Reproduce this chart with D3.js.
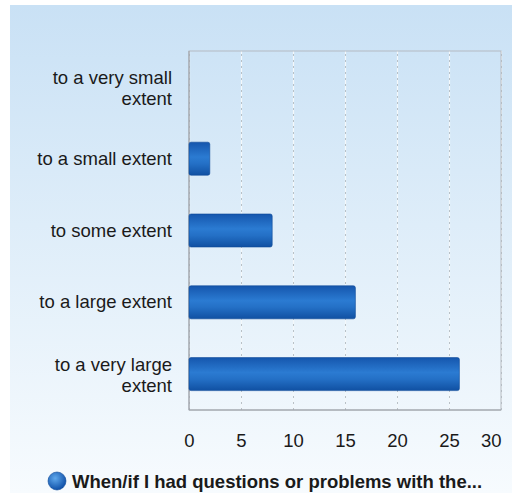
<!DOCTYPE html>
<html>
<head>
<meta charset="utf-8">
<script src="https://cdn.jsdelivr.net/npm/d3@7"></script>
<style>
  body { margin: 0; background: #fff; }
  svg { display: block; font-family: "Liberation Sans", Arial, sans-serif; }
</style>
</head>
<body>
<div id="chart"></div>
<script>
// data
var categories = ["to a very small extent", "to a small extent", "to some extent", "to a large extent", "to a very large extent"];
var labelLines = [["to a very small", "extent"], ["to a small extent"], ["to some extent"], ["to a large extent"], ["to a very large", "extent"]];
var values = [0, 2, 8, 16, 26];
var xTicks = [0, 5, 10, 15, 20, 25, 30];
var seriesName = "When/if I had questions or problems with the...";

var W = 512, H = 493;
var margin = {top: 51, right: 11, bottom: 83, left: 189};
var width = W - margin.left - margin.right,
    height = H - margin.top - margin.bottom;
var fs = 18.5;

var svg = d3.select("#chart").append("svg")
    .attr("width", W)
    .attr("height", H);

var defs = svg.append("defs");
var bg = defs.append("linearGradient").attr("id", "bg")
    .attr("x1", 0).attr("y1", 0).attr("x2", 0).attr("y2", 1);
bg.append("stop").attr("offset", "0%").attr("stop-color", "#c9e1f5");
bg.append("stop").attr("offset", "45%").attr("stop-color", "#deedf9");
bg.append("stop").attr("offset", "100%").attr("stop-color", "#f7fbfe");

var barGrad = defs.append("linearGradient").attr("id", "barGrad")
    .attr("x1", 0).attr("y1", 0).attr("x2", 0).attr("y2", 1);
barGrad.append("stop").attr("offset", "0%").attr("stop-color", "#1556ad");
barGrad.append("stop").attr("offset", "45%").attr("stop-color", "#2b7bd2");
barGrad.append("stop").attr("offset", "65%").attr("stop-color", "#2470c6");
barGrad.append("stop").attr("offset", "100%").attr("stop-color", "#1050a2");

var dotGrad = defs.append("radialGradient").attr("id", "dotGrad")
    .attr("cx", "40%").attr("cy", "35%").attr("r", "65%");
dotGrad.append("stop").attr("offset", "0%").attr("stop-color", "#5fa8ec");
dotGrad.append("stop").attr("offset", "100%").attr("stop-color", "#0f50a8");

// background panel
svg.append("rect")
    .attr("x", 10).attr("y", 5)
    .attr("width", W - 10).attr("height", H - 5)
    .attr("fill", "url(#bg)");

var g = svg.append("g")
    .attr("transform", "translate(" + margin.left + "," + margin.top + ")");

var x = d3.scaleLinear().domain([0, 30]).range([0, width]);
var y = d3.scaleBand().domain(categories).range([0, height]).paddingInner(0.54).paddingOuter(0.27);

// grid: pale line with grey dashes on top
g.append("g")
    .attr("transform", "translate(0," + height + ")")
    .call(d3.axisBottom(x).tickValues(xTicks).tickSize(-height).tickFormat(""))
    .call(function(a) {
      a.select(".domain").remove();
      a.selectAll("line").attr("stroke", "#f4f8fb").attr("stroke-width", 1.2);
    });
g.append("g")
    .attr("transform", "translate(0," + height + ")")
    .call(d3.axisBottom(x).tickValues(xTicks).tickSize(-height).tickFormat(""))
    .call(function(a) {
      a.select(".domain").remove();
      a.selectAll("line").attr("stroke", "#aab2ba").attr("stroke-dasharray", "2,4").attr("stroke-width", 0.8);
    });

// frame
g.append("rect")
    .attr("x", 0).attr("y", 0).attr("width", width).attr("height", height)
    .attr("fill", "none").attr("stroke", "#b4bac2").attr("stroke-width", 1);
g.append("line").attr("x1", 0).attr("x2", 0).attr("y1", 0).attr("y2", height)
    .attr("stroke", "#9a9ea4");
g.append("line").attr("x1", 0).attr("x2", width).attr("y1", height).attr("y2", height)
    .attr("stroke", "#9a9ea4");

// bars
g.selectAll(".bar")
    .data(values)
    .enter().append("rect")
    .attr("class", "bar")
    .attr("x", x(0))
    .attr("y", function(d, i) { return y(categories[i]); })
    .attr("width", function(d) { return x(d) - x(0); })
    .attr("height", y.bandwidth())
    .attr("rx", 2)
    .attr("fill", "url(#barGrad)")
    .attr("stroke", "#0d4a99")
    .attr("stroke-width", 0.6)
    .style("display", function(d) { return d > 0 ? null : "none"; });

// x tick labels
g.append("g")
    .attr("transform", "translate(0," + height + ")")
    .call(d3.axisBottom(x).tickValues(xTicks).tickSize(0))
    .call(function(a) {
      a.select(".domain").remove();
      a.selectAll("text")
        .attr("y", 37).attr("dy", 0)
        .attr("font-size", fs).attr("fill", "#1a1a1a")
        .attr("font-family", "Liberation Sans, Arial, sans-serif")
        .attr("text-anchor", function(d) { return d === 30 ? "end" : "middle"; });
    });

// y category labels
var yl = g.append("g").attr("class", "ylab");
categories.forEach(function(c, i) {
  var lines = labelLines[i];
  var cy = y(c) + y.bandwidth() / 2;
  var t = yl.append("text")
      .attr("text-anchor", "end")
      .attr("font-size", fs)
      .attr("fill", "#1a1a1a");
  lines.forEach(function(s, j) {
    t.append("tspan")
      .attr("x", -17)
      .attr("y", cy + 6 + j * 21 - (lines.length - 1) * 9)
      .text(s);
  });
});

// legend
var lg = svg.append("g").attr("transform", "translate(57,481)");
lg.append("circle").attr("cx", 0).attr("cy", 0).attr("r", 9)
    .attr("fill", "url(#dotGrad)").attr("stroke", "#0d4a99").attr("stroke-width", 0.6);
lg.append("text").attr("x", 15).attr("y", 7)
    .attr("font-size", fs).attr("font-weight", "bold").attr("fill", "#1a1a1a")
    .text(seriesName);
</script>
</body>
</html>
